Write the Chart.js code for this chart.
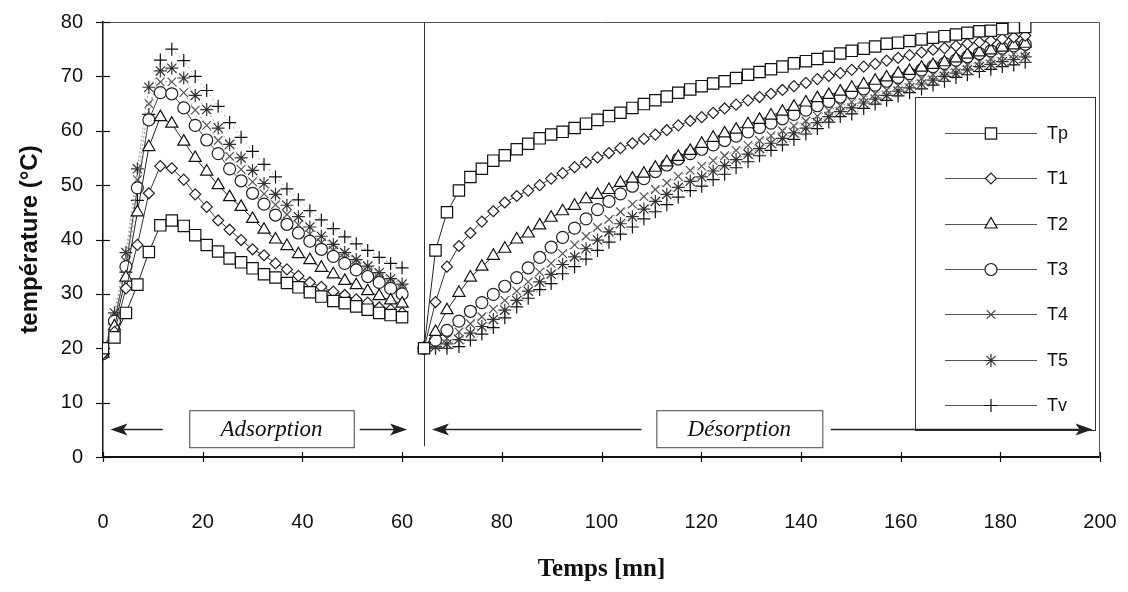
<!DOCTYPE html>
<html>
<head>
<meta charset="utf-8">
<script src="https://cdn.jsdelivr.net/npm/chart.js@4/dist/chart.umd.min.js"></script>
<style>
  html, body { margin: 0; padding: 0; background: #fff; }
  #wrap { width: 1128px; height: 592px; }
</style>
</head>
<body>
<div id="wrap"><canvas id="tempChart" width="1128" height="592"></canvas></div>
<script>
// temps (mn)
const adsTime = [0, 2.3, 4.6, 6.9, 9.2, 11.5, 13.8, 16.2, 18.5, 20.8, 23.1, 25.4, 27.7, 30, 32.3, 34.6, 36.9, 39.2, 41.5, 43.8, 46.2, 48.5, 50.8, 53.1, 55.4, 57.7, 60];
const desTime = [64.4, 66.7, 69.0, 71.4, 73.7, 76.0, 78.3, 80.6, 83.0, 85.3, 87.6, 89.9, 92.2, 94.6, 96.9, 99.2, 101.5, 103.8, 106.2, 108.5,
  110.8, 113.1, 115.4, 117.8, 120.1, 122.4, 124.7, 127.0, 129.4, 131.7, 134.0, 136.3, 138.6, 141.0, 143.3, 145.6, 147.9, 150.2, 152.6, 154.9,
  157.2, 159.5, 161.8, 164.2, 166.5, 168.8, 171.1, 173.4, 175.8, 178.1, 180.4, 182.7, 185.0];

const seriesNames = ['Tp', 'T1', 'T2', 'T3', 'T4', 'T5', 'Tv'];

// adsorption (°C)
const tpAds = [20, 22, 26.5, 31.7, 37.7, 42.6, 43.5, 42.5, 40.8, 39.0, 37.8, 36.5, 35.8, 34.7, 33.6, 33.0, 32.0, 31.2, 30.3, 29.5, 28.7, 28.3, 27.7, 27.1, 26.5, 26.1, 25.7];
const t1Ads = [19, 23, 31, 39, 48.5, 53.5, 53.1, 51.0, 48.3, 46.0, 43.5, 41.8, 39.9, 38.2, 37.1, 35.6, 34.5, 33.3, 32.1, 31.3, 30.4, 29.8, 29.0, 28.4, 27.5, 27.1, 26.5];
const t2Ads = [19, 24, 33, 45, 57, 62.5, 61.3, 58, 55, 52.5, 50, 47.8, 46, 43.8, 41.8, 40, 38.8, 37.3, 36.2, 34.8, 33.6, 32.4, 31.6, 30.5, 29.6, 28.8, 28.2];
const t3Ads = [19, 25, 35, 49.5, 62, 67, 66.8, 64.2, 61, 58.3, 55.8, 53, 50.8, 48.5, 46.5, 44.5, 42.8, 41.2, 39.7, 38.2, 36.9, 35.6, 34.4, 33.2, 32.1, 31, 30];
const t4Ads = [19, 25.5, 36, 51, 65, 69, 69, 67, 63.8, 61, 58.2, 55.3, 52.9, 50.6, 48.4, 46.4, 44.6, 42.7, 41, 39.4, 38, 36.6, 35.3, 34.1, 33, 31.9, 30.9];
const t5Ads = [19, 26.5, 37.6, 53, 68, 71, 71.5, 69.7, 66.5, 63.9, 60.5, 57.5, 55, 52.7, 50.3, 48.3, 46.3, 44.2, 42.3, 40.6, 39.1, 37.6, 36.3, 35.1, 33.9, 32.8, 31.8];
const tvAds = [20, 24.5, 34, 47.2, 63, 73, 75, 72.9, 70, 67.4, 64.5, 61.5, 58.8, 56.2, 53.8, 51.5, 49.3, 47.3, 45.3, 43.6, 42, 40.5, 39.2, 38, 36.7, 35.6, 34.8];

// désorption (°C)
const tpDes = [20, 38, 45, 49, 51.5, 53, 54.5, 55.5, 56.6, 57.6, 58.6, 59.3, 59.8, 60.5, 61.3, 62, 62.7, 63.3, 64.2, 64.9,
  65.6, 66.3, 67, 67.6, 68.2, 68.7, 69.1, 69.7, 70.3, 70.8, 71.3, 71.8, 72.4, 72.8, 73.2, 73.6, 74.2, 74.7, 75.1, 75.5,
  76, 76.2, 76.5, 76.8, 77.1, 77.4, 77.7, 78, 78.3, 78.4, 78.7, 79, 79.1];
const t1Des = [20, 28.5, 35, 38.8, 41.2, 43.3, 45.2, 46.8, 48, 49, 50, 51.2, 52.2, 53.3, 54.2, 55.1, 55.9, 56.8, 57.7, 58.5,
  59.3, 60.1, 61, 61.8, 62.5, 63.3, 64.1, 64.8, 65.6, 66.2, 66.8, 67.5, 68.2, 68.8, 69.5, 70.1, 70.6, 71.2, 71.8, 72.3,
  72.9, 73.4, 73.9, 74.4, 74.9, 75.2, 75.6, 76, 76.3, 76.6, 76.9, 77.2, 77.5];
const t2Des = [20, 23, 27, 30.2, 33, 35, 37, 38.3, 40, 41.1, 42.6, 44, 45.2, 46.2, 47.4, 48.2, 49.1, 50.4, 51.2, 52.1,
  53.2, 54.2, 55.2, 56.3, 57.6, 58.7, 59.5, 60.2, 61.2, 62, 62.8, 63.5, 64.4, 65.2, 66, 66.6, 67.2, 67.9, 68.5, 69.2,
  69.8, 70.5, 71, 71.6, 72.1, 72.6, 73.3, 74, 74.4, 74.8, 75.3, 75.7, 76];
const t3Des = [20, 21.5, 23.3, 25, 26.8, 28.4, 29.9, 31.4, 33, 34.8, 36.7, 38.6, 40.4, 42.1, 43.8, 45.5, 47, 48.4, 49.8, 51.2,
  52.5, 53.7, 54.8, 55.8, 56.6, 57.4, 58.2, 59, 59.8, 60.6, 61.4, 62.2, 63, 63.8, 64.6, 65.4, 66.2, 67, 67.7, 68.4,
  69.1, 69.8, 70.5, 71.2, 71.8, 72.4, 73, 73.6, 74.2, 74.7, 75.2, 75.6, 75.9];
const t4Des = [20, 20.8, 21.8, 23, 24.5, 25.8, 27.2, 28.8, 30.5, 32.2, 34, 35.6, 37.4, 39, 40.6, 42.2, 43.7, 45.1, 46.5, 47.9,
  49.2, 50.4, 51.6, 52.7, 53.5, 54.5, 55.4, 56.4, 57.3, 58.2, 59.1, 60, 60.9, 61.8, 62.7, 63.7, 64.6, 65.3, 66.1, 66.8,
  67.5, 68.3, 68.9, 69.6, 70.3, 70.9, 71.6, 72.1, 72.7, 73.2, 73.7, 74.1, 74.6];
const t5Des = [20, 20.3, 20.8, 21.6, 22.8, 24, 25.3, 27, 28.8, 30.5, 32.2, 33.6, 35.4, 36.8, 38.3, 39.9, 41.4, 42.9, 44.2, 45.6,
  47, 48.3, 49.6, 50.7, 51.5, 52.6, 53.6, 54.7, 55.7, 56.7, 57.7, 58.6, 59.6, 60.5, 61.5, 62.6, 63.5, 64.2, 65.1, 65.8,
  66.5, 67.3, 67.9, 68.6, 69.3, 70, 70.6, 71.2, 71.8, 72.2, 72.7, 73.1, 73.6];
const tvDes = [20, 20, 20, 20.3, 21.5, 22.6, 23.8, 25.6, 27.6, 29.2, 30.8, 31.9, 33.7, 35, 36.4, 38, 39.5, 41, 42.3, 43.8,
  45.1, 46.4, 47.8, 49, 49.8, 51, 52, 53.2, 54.3, 55.4, 56.4, 57.4, 58.4, 59.4, 60.4, 61.6, 62.6, 63.1, 64.1, 64.9,
  65.6, 66.4, 67, 67.7, 68.4, 69.1, 69.8, 70.3, 70.9, 71.3, 71.8, 72.1, 72.6];

const yTicks = [0, 10, 20, 30, 40, 50, 60, 70, 80];
const xTicks = [0, 20, 40, 60, 80, 100, 120, 140, 160, 180, 200];

const adsSeries = [tpAds, t1Ads, t2Ads, t3Ads, t4Ads, t5Ads, tvAds];
const desSeries = [tpDes, t1Des, t2Des, t3Des, t4Des, t5Des, tvDes];

// styles per serie
const marks = [
  { pointStyle: 'rect', radius: 8, color: '#111', line: '#222', dash: [] },
  { pointStyle: 'rectRot', radius: 5.5, color: '#222', line: '#333', dash: [] },
  { pointStyle: 'triangle', radius: 7, color: '#111', line: '#222', dash: [] },
  { pointStyle: 'circle', radius: 6, color: '#222', line: '#444', dash: [] },
  { pointStyle: 'crossRot', radius: 6, color: '#555', line: '#999', dash: [2, 2] },
  { pointStyle: 'star', radius: 6.5, color: '#333', line: '#999', dash: [2, 2] },
  { pointStyle: 'cross', radius: 6.5, color: '#111', line: '#aaa', dash: [2, 3] }
];

function buildPoints(ads, des) {
  const pts = adsTime.map((t, i) => ({ x: t, y: ads[i] }));
  pts.push({ x: 62, y: null });
  desTime.forEach((t, i) => pts.push({ x: t, y: des[i] }));
  return pts;
}

const datasets = seriesNames.map((name, i) => ({
  label: name,
  data: buildPoints(adsSeries[i], desSeries[i]),
  borderColor: marks[i].line,
  borderWidth: 1,
  borderDash: marks[i].dash,
  pointStyle: marks[i].pointStyle,
  pointRadius: marks[i].radius,
  pointBorderColor: marks[i].color,
  pointBackgroundColor: '#fff',
  pointBorderWidth: 1.2,
  tension: 0,
  spanGaps: false
}));

const FONT = "'Liberation Sans', Arial, sans-serif";
const SERIF = "'Liberation Serif', 'Times New Roman', serif";

function arrowHead(ctx, x, y, dir) {
  ctx.beginPath();
  ctx.moveTo(x, y);
  ctx.lineTo(x - dir * 17, y - 6);
  ctx.lineTo(x - dir * 13, y);
  ctx.lineTo(x - dir * 17, y + 6);
  ctx.closePath();
  ctx.fill();
}

function phaseLabel(ctx, xs, ys, x0, x1, text) {
  const l = xs.getPixelForValue(x0), r = xs.getPixelForValue(x1);
  const t = ys.getPixelForValue(8.6), b = ys.getPixelForValue(1.8);
  ctx.fillStyle = '#fff';
  ctx.fillRect(l, t, r - l, b - t);
  ctx.strokeStyle = '#444';
  ctx.lineWidth = 1;
  ctx.strokeRect(l + 0.5, t + 0.5, r - l, b - t);
  ctx.fillStyle = '#111';
  ctx.font = 'italic 23px ' + SERIF;
  ctx.textAlign = 'center';
  ctx.textBaseline = 'middle';
  ctx.fillText(text, (l + r) / 2, (t + b) / 2 + 1);
}

const framePlugin = {
  id: 'frame',
  beforeDatasetsDraw(chart) {
    const { ctx, chartArea: a, scales: { x, y } } = chart;
    ctx.save();
    ctx.strokeStyle = '#555';
    ctx.lineWidth = 1;
    ctx.beginPath();
    ctx.moveTo(a.left, a.top + 0.5);
    ctx.lineTo(a.right - 0.5, a.top + 0.5);
    ctx.lineTo(a.right - 0.5, a.bottom);
    ctx.stroke();
    // séparation adsorption / désorption
    ctx.strokeStyle = '#333';
    const sx = Math.round(x.getPixelForValue(64.4)) + 0.5;
    ctx.beginPath();
    ctx.moveTo(sx, a.top);
    ctx.lineTo(sx, y.getPixelForValue(2));
    ctx.stroke();
    // graduations traversantes
    ctx.strokeStyle = '#111';
    ctx.lineWidth = 1.2;
    yTicks.forEach(v => {
      const py = Math.round(y.getPixelForValue(v)) + 0.5;
      ctx.beginPath();
      ctx.moveTo(a.left - 7, py);
      ctx.lineTo(a.left + 7, py);
      ctx.stroke();
    });
    xTicks.forEach(v => {
      const px = Math.round(x.getPixelForValue(v)) + 0.5;
      ctx.beginPath();
      ctx.moveTo(px, a.bottom - 5);
      ctx.lineTo(px, a.bottom + 5);
      ctx.stroke();
    });
    ctx.restore();
  },
  afterDatasetsDraw(chart) {
    const { ctx, scales: { x, y } } = chart;
    ctx.save();

    // légende
    const lx = 915, ly = 97, lw = 180, lh = 333;
    ctx.fillStyle = '#fff';
    ctx.fillRect(lx, ly, lw, lh);
    ctx.strokeStyle = '#333';
    ctx.lineWidth = 1;
    ctx.strokeRect(lx + 0.5, ly + 0.5, lw, lh);
    chart.data.datasets.forEach((ds, i) => {
      const ey = Math.round(ly + 36 + i * 45.3) + 0.5;
      ctx.strokeStyle = '#555';
      ctx.lineWidth = 1;
      ctx.setLineDash([]);
      ctx.beginPath();
      ctx.moveTo(945, ey);
      ctx.lineTo(1037, ey);
      ctx.stroke();
      ctx.fillStyle = '#fff';
      const mk = marks[i];
      const opts = { pointStyle: mk.pointStyle, radius: mk.radius, borderWidth: 1.2, rotation: 0 };
      ctx.strokeStyle = mk.color;
      ctx.lineWidth = 1.2;
      if (Chart.helpers && Chart.helpers.drawPoint) {
        Chart.helpers.drawPoint(ctx, opts, 991, ey);
      }
      ctx.fillStyle = '#111';
      ctx.font = '18px ' + FONT;
      ctx.textAlign = 'left';
      ctx.textBaseline = 'middle';
      ctx.fillText(ds.label, 1047, ey + 1);
    });

    // flèches
    const ay = Math.round(y.getPixelForValue(5.2)) + 0.5;
    ctx.strokeStyle = '#222';
    ctx.fillStyle = '#222';
    ctx.lineWidth = 1.5;
    const segs = [[12, 1.5, -1], [51.5, 61, 1], [108, 66, -1], [146, 198.5, 1]];
    segs.forEach(([from, to, dir]) => {
      const p0 = x.getPixelForValue(from), p1 = x.getPixelForValue(to);
      ctx.beginPath();
      ctx.moveTo(p0, ay);
      ctx.lineTo(p1 - dir * 13, ay);
      ctx.stroke();
      arrowHead(ctx, p1, ay, dir);
    });
    phaseLabel(ctx, x, y, 17.3, 50.3, 'Adsorption');
    phaseLabel(ctx, x, y, 111, 144.3, 'Désorption');
    ctx.restore();
  }
};

new Chart(document.getElementById('tempChart'), {
  type: 'line',
  data: { datasets: datasets },
  options: {
    responsive: false,
    animation: false,
    layout: { padding: { top: 22, right: 28, left: 0, bottom: 0 } },
    plugins: { legend: { display: false }, tooltip: { enabled: false } },
    scales: {
      x: {
        type: 'linear',
        min: 0,
        max: 200,
        afterFit: s => { s.height = 135; s.paddingLeft = 0; s.paddingRight = 0; },
        afterBuildTicks: s => { s.ticks = xTicks.map(v => ({ value: v })); },
        ticks: { color: '#111', font: { family: FONT, size: 20 }, padding: 53, maxRotation: 0 },
        grid: { drawOnChartArea: false, drawTicks: false },
        border: { color: '#111', width: 2 },
        title: {
          display: true,
          text: 'Temps [mn]',
          color: '#111',
          font: { family: SERIF, size: 25, weight: 'bold' },
          padding: { top: 0, bottom: 7 }
        }
      },
      y: {
        min: 0,
        max: 80,
        afterFit: s => { s.width = 103; s.paddingTop = 0; s.paddingBottom = 0; },
        afterBuildTicks: s => { s.ticks = yTicks.map(v => ({ value: v })); },
        ticks: { color: '#111', font: { family: FONT, size: 20 }, padding: 20 },
        grid: { drawOnChartArea: false, drawTicks: false },
        border: { color: '#111', width: 1.5 },
        title: {
          display: true,
          text: 'température (°C)',
          color: '#111',
          font: { family: FONT, size: 24, weight: 'bold' },
          padding: { top: 16, bottom: 0 }
        }
      }
    }
  },
  plugins: [framePlugin]
});
</script>
</body>
</html>
